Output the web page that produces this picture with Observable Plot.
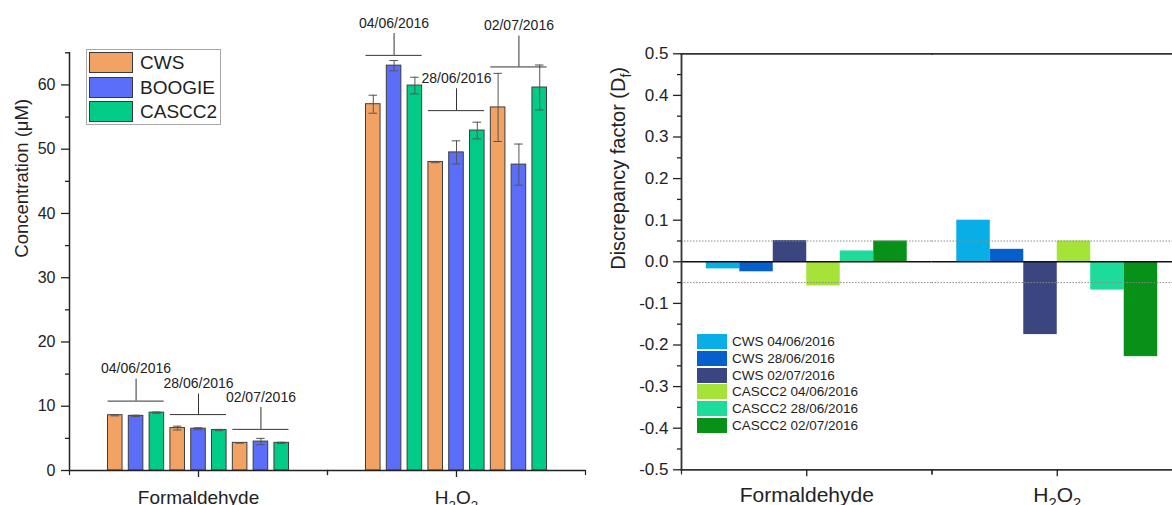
<!DOCTYPE html>
<html>
<head>
<meta charset="utf-8">
<script src="https://cdn.jsdelivr.net/npm/d3@7"></script>
<script src="https://cdn.jsdelivr.net/npm/@observablehq/plot@0.6"></script>
<style>
html, body { margin: 0; padding: 0; background: #fff; overflow: hidden; width: 1172px; height: 505px; }
#wrap { position: relative; width: 1172px; height: 505px; overflow: hidden; font-family: "Liberation Sans", Arial, sans-serif; color: #222; }
#left { position: absolute; left: 0; top: 0; width: 590px; height: 505px; }
#right { position: absolute; left: 590px; top: 0; width: 600px; height: 505px; }
#legL { position: absolute; left: 86px; top: 49px; width: 133px; height: 74px; border: 1px solid #a8a8a8; background: #fff; }
#legL .row { position: absolute; left: 2px; height: 21px; }
#legL .sw { position: absolute; left: 0; top: 0; width: 42px; height: 19px; border: 1px solid #3a3a3a; }
#legL .lb { position: absolute; left: 51px; top: 0; line-height: 21px; font-size: 19px; white-space: nowrap; color: #1e1e1e; }
#legR { position: absolute; left: 697px; top: 334px; }
#legR .row { position: absolute; left: 0; height: 16px; }
#legR .sw { position: absolute; left: 0; top: 0; width: 30px; height: 15px; }
#legR .lb { position: absolute; left: 35px; top: 0; line-height: 15px; font-size: 13.5px; white-space: nowrap; color: #1e1e1e; }
</style>
</head>
<body>
<div id="wrap">
  <div id="left"></div>
  <div id="right"></div>
  <div id="legL"></div>
  <div id="legR"></div>
</div>
<script>
// ---------------- data ----------------
const categories = ["Formaldehyde", "H2O2"];
const dates = ["04/06/2016", "28/06/2016", "02/07/2016"];
const instruments = ["CWS", "BOOGIE", "CASCC2"];
const instColors = ["#f2a364", "#5a6efa", "#00cc88"];

// concentrations (µM), order: date x instrument
const formaldehydeConc = [8.6, 8.5, 9.0, 6.6, 6.5, 6.3, 4.3, 4.5, 4.3];
const formaldehydeErr  = [0.1, 0.1, 0.1, 0.3, 0.15, 0.1, 0.05, 0.5, 0.1];
const h2o2Conc = [57.0, 63.0, 59.9, 48.0, 49.5, 52.9, 56.5, 47.6, 59.6];
const h2o2Err  = [1.4, 0.8, 1.3, 0.1, 1.8, 1.3, 5.3, 3.2, 3.5];

// date bracket annotation levels (µM)
const formaldehydeBracket = [10.8, 8.7, 6.4];
const formaldehydeBracketTop = [14.2, 11.9, 9.8];
const h2o2Bracket = [64.6, 56.0, 62.8];
const h2o2BracketTop = [68.0, 59.4, 67.6];

const concTicks = [0, 10, 20, 30, 40, 50, 60];
const concMinorTicks = [5, 15, 25, 35, 45, 55, 65];

// discrepancy factors
const dfSeries = ["CWS 04/06/2016", "CWS 28/06/2016", "CWS 02/07/2016",
                  "CASCC2 04/06/2016", "CASCC2 28/06/2016", "CASCC2 02/07/2016"];
const dfColors = ["#0aaee6", "#0660cc", "#3b4580", "#a6e339", "#1ddc9b", "#079119"];
const dfFormaldehyde = [-0.017, -0.024, 0.051, -0.058, 0.026, 0.050];
const dfH2O2 = [0.100, 0.030, -0.175, 0.050, -0.068, -0.228];
const dfLimits = [-0.05, 0.05];
const dfTicks = [-0.5, -0.4, -0.3, -0.2, -0.1, 0, 0.1, 0.2, 0.3, 0.4, 0.5];
const dfMinorTicks = [-0.45, -0.35, -0.25, -0.15, -0.05, 0.05, 0.15, 0.25, 0.35, 0.45];

// ---------------- build tables ----------------
const FONT = '"Liberation Sans", Arial, sans-serif';
const concByCat = [formaldehydeConc, h2o2Conc];
const errByCat = [formaldehydeErr, h2o2Err];
const bracketByCat = [formaldehydeBracket, h2o2Bracket];
const bracketTopByCat = [formaldehydeBracketTop, h2o2BracketTop];

const keys = [];
dates.forEach(d => instruments.forEach(i => keys.push(d + "|" + i)));

const concRows = [];
categories.forEach((cat, ci) => {
  dates.forEach((date, di) => instruments.forEach((inst, ii) => {
    const k = di * 3 + ii;
    concRows.push({cat, key: date + "|" + inst, inst, value: concByCat[ci][k], err: errByCat[ci][k]});
  }));
});
const bracketRows = [];
categories.forEach((cat, ci) => dates.forEach((date, di) => {
  bracketRows.push({cat, date,
    first: date + "|" + instruments[0], mid: date + "|" + instruments[1], last: date + "|" + instruments[2],
    level: bracketByCat[ci][di], top: bracketTopByCat[ci][di]});
}));

const dfByCat = [dfFormaldehyde, dfH2O2];
const dfRows = [];
categories.forEach((cat, ci) => dfSeries.forEach((s, si) => dfRows.push({cat, series: s, value: dfByCat[ci][si]})));

// ---------------- left chart ----------------
const L = {width: 590, height: 505, top: 52.3, bottom: 35, left: 69, right: 5};
const LframeH = L.height - L.top - L.bottom;
const left = Plot.plot({
  width: L.width, height: L.height,
  marginLeft: L.left, marginRight: L.right, marginTop: L.top, marginBottom: L.bottom,
  style: {fontFamily: FONT, color: "#222", background: "transparent", overflow: "visible", maxWidth: "none"},
  fx: {domain: categories, paddingInner: 0, paddingOuter: 0, round: false, axis: null},
  x: {domain: keys, paddingInner: 0.3, paddingOuter: 1.85, round: false, axis: null},
  y: {domain: [0, 65], axis: null},
  color: {domain: instruments, range: instColors},
  marks: [
    Plot.barY(concRows, {fx: "cat", x: "key", y: "value", fill: "inst", stroke: "#3d3d3d", strokeWidth: 1}),
    Plot.ruleX(concRows, {fx: "cat", x: "key", y1: d => d.value - d.err, y2: d => d.value + d.err, stroke: "#555"}),
    Plot.tickY(concRows, {fx: "cat", x: "key", y: d => d.value + d.err, stroke: "#555", insetLeft: 3, insetRight: 3}),
    Plot.tickY(concRows, {fx: "cat", x: "key", y: d => d.value - d.err, stroke: "#555", insetLeft: 3, insetRight: 3}),
    Plot.ruleY(bracketRows, {fx: "cat", y: "level", x1: "first", x2: "last", stroke: "#333"}),
    Plot.ruleX(bracketRows, {fx: "cat", x: "mid", y1: "level", y2: "top", stroke: "#333"}),
    Plot.text(bracketRows, {fx: "cat", x: "mid", y: "top", text: "date", dy: -6, lineAnchor: "bottom", fontSize: 14, fill: "#222"}),
    Plot.ruleY([0], {stroke: "#222", strokeWidth: 1.5}),
    Plot.frame({anchor: "left", insetTop: LframeH, insetBottom: -4, stroke: "#222", strokeWidth: 1.2}),
    Plot.frame({anchor: "right", insetTop: LframeH, insetBottom: -4, stroke: "#222", strokeWidth: 1.2}),
    Plot.frame({anchor: "left", facet: "super", stroke: "#222", strokeWidth: 1.5}),
    Plot.axisY({ticks: concTicks, tickSize: 8, tickPadding: 6, fontSize: 16, strokeWidth: 1.3, label: null}),
    Plot.axisY({ticks: concMinorTicks, tickSize: 4, tickFormat: () => "", strokeWidth: 1.3, label: null}),
    Plot.axisFx({anchor: "bottom", tickSize: 7, tickPadding: 13, fontSize: 19, strokeWidth: 1.3, label: null}),
    Plot.text(["Concentration (μM)"], {text: d => d, frameAnchor: "left", rotate: -90, dx: -47, dy: -4, fontSize: 18.5, fill: "#222", facet: "super"})
  ]
});
document.getElementById("left").appendChild(left);

// ---------------- right chart ----------------
const R = {width: 592, height: 505, top: 53.3, bottom: 35.7, left: 91, right: 0};
const RframeH = R.height - R.top - R.bottom;
const right = Plot.plot({
  width: R.width, height: R.height,
  marginLeft: R.left, marginRight: R.right, marginTop: R.top, marginBottom: R.bottom,
  style: {fontFamily: FONT, color: "#222", background: "transparent", overflow: "visible", maxWidth: "none"},
  fx: {domain: categories, paddingInner: 0, paddingOuter: 0, round: false, axis: null},
  x: {domain: dfSeries, paddingInner: 0, paddingOuter: 0.74, round: false, axis: null},
  y: {domain: [-0.5, 0.5], axis: null},
  color: {domain: dfSeries, range: dfColors},
  marks: [
    Plot.barY(dfRows, {fx: "cat", x: "series", y: "value", fill: "series"}),
    Plot.ruleY(dfLimits, {stroke: "#888", strokeDasharray: "1.5,1.5", strokeWidth: 1}),
    Plot.ruleY([0], {stroke: "#111", strokeWidth: 1.5}),
    Plot.frame({anchor: "top", stroke: "#333", strokeWidth: 1.8}),
    Plot.frame({anchor: "bottom", stroke: "#333", strokeWidth: 1.8}),
    Plot.frame({anchor: "left", insetTop: RframeH, insetBottom: -4, stroke: "#222", strokeWidth: 1.2}),
    Plot.frame({anchor: "right", insetTop: RframeH, insetBottom: -4, stroke: "#222", strokeWidth: 1.2}),
    Plot.frame({anchor: "left", facet: "super", stroke: "#333", strokeWidth: 1.8}),
    Plot.axisY({ticks: dfTicks, tickFormat: d => d.toFixed(1), tickSize: 8, tickPadding: 5, fontSize: 17, strokeWidth: 1.3, label: null}),
    Plot.axisY({ticks: dfMinorTicks, tickSize: 4, tickFormat: () => "", strokeWidth: 1.3, label: null}),
    Plot.axisFx({anchor: "bottom", tickSize: 7, tickPadding: 10, fontSize: 21, strokeWidth: 1.3, label: null}),
    Plot.text(["Discrepancy factor (Df)"], {text: d => d, frameAnchor: "left", rotate: -90, dx: -63, dy: 8, fontSize: 20, fill: "#222", facet: "super"})
  ]
});
document.getElementById("right").appendChild(right);

// ---------------- subscripts in labels ----------------
const SVGNS = "http://www.w3.org/2000/svg";
function withSubscripts(svg, full, parts) {
  svg.querySelectorAll("text").forEach(t => {
    if (t.textContent !== full) return;
    while (t.firstChild) t.removeChild(t.firstChild);
    let lowered = false;
    parts.forEach(([s, sub]) => {
      const ts = document.createElementNS(SVGNS, "tspan");
      ts.textContent = s;
      if (sub && !lowered) { ts.setAttribute("font-size", "0.7em"); ts.setAttribute("dy", "0.45em"); lowered = true; }
      else if (sub && lowered) { ts.setAttribute("font-size", "0.7em"); }
      else if (!sub && lowered) { ts.setAttribute("dy", "-0.315em"); lowered = false; }
      t.appendChild(ts);
    });
  });
}
[left, right].forEach(svg => withSubscripts(svg, "H2O2", [["H", false], ["2", true], ["O", false], ["2", true]]));
withSubscripts(right, "Discrepancy factor (Df)", [["Discrepancy factor (D", false], ["f", true], [")", false]]);

// ---------------- legends ----------------
const legL = document.getElementById("legL");
instruments.forEach((inst, i) => {
  const row = document.createElement("div");
  row.className = "row";
  row.style.top = (2 + i * 24.5) + "px";
  row.innerHTML = `<div class="sw" style="background:${instColors[i]}"></div><div class="lb">${inst}</div>`;
  legL.appendChild(row);
});
const legR = document.getElementById("legR");
dfSeries.forEach((s, i) => {
  const row = document.createElement("div");
  row.className = "row";
  row.style.top = (i * 16.8) + "px";
  row.innerHTML = `<div class="sw" style="background:${dfColors[i]}"></div><div class="lb">${s}</div>`;
  legR.appendChild(row);
});
</script>
</body>
</html>
